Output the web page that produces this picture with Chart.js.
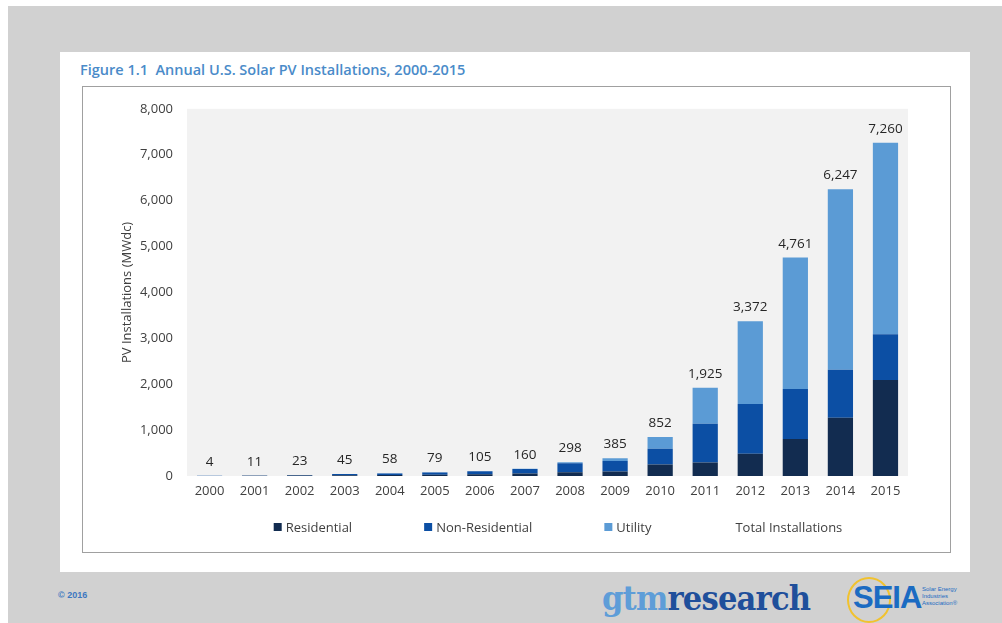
<!DOCTYPE html>
<html>
<head>
<meta charset="utf-8">
<script src="https://cdn.jsdelivr.net/npm/chart.js@4.4.1/dist/chart.umd.min.js"></script>
<style>
  html, body { margin: 0; padding: 0; background: #fff; }
  body { width: 1002px; height: 623px; position: relative; overflow: hidden; font-family: "Open Sans", sans-serif; }
  .bg { position: absolute; left: 8px; top: 6px; right: 0; bottom: 0; background: #d1d1d1; }
  .panel { position: absolute; left: 60px; top: 52px; width: 910px; height: 520px; background: #fff; }
  .title { position: absolute; left: 80px; top: 60px; margin: 0; font: 600 14.5px "Open Sans", sans-serif; color: #4a8bc9; white-space: nowrap; }
  .box { position: absolute; left: 82px; top: 86px; width: 867px; height: 465px; border: 1px solid #a0a0a0; background: #fff; }
  .box canvas { position: absolute; left: 0; top: 0; }
  .copy { position: absolute; left: 58px; top: 590px; font: bold 9px "Liberation Sans", Arial, sans-serif; color: #3d78c0; }
  .gtm { position: absolute; left: 602px; top: 578px; font: bold 34px "DejaVu Serif Condensed", "DejaVu Serif", serif; letter-spacing: -0.8px; white-space: nowrap; }
  .gtm .a { color: #5e9dd8; }
  .gtm .b { color: #1f4f9b; }
  .seia-ring { position: absolute; left: 847px; top: 577px; width: 40px; height: 42px; border: 2px solid #f1c22e; border-radius: 50%; }
  .seia { position: absolute; left: 853px; top: 580px; font: bold 31px "Liberation Sans Narrow", "Liberation Sans", sans-serif; color: #1b6bc2; letter-spacing: -1px; }
  .seia-sub { position: absolute; left: 922px; top: 586px; font: 6px/7px "Liberation Sans", sans-serif; color: #1b6bc2; }
</style>
</head>
<body>
<div class="bg"></div>
<div class="panel"></div>
<h1 class="title">Figure 1.1&nbsp; Annual U.S. Solar PV Installations, 2000-2015</h1>
<div class="box"><canvas id="pvChart" width="867" height="465"></canvas></div>
<div class="copy">© 2016</div>
<div class="gtm"><span class="a">gtm</span><span class="b">research</span></div>
<div class="seia-ring"></div>
<div class="seia">SEIA</div>
<div class="seia-sub">Solar Energy<br>Industries<br>Association®</div>

<script>
const years = ["2000", "2001", "2002", "2003", "2004", "2005", "2006", "2007",
               "2008", "2009", "2010", "2011", "2012", "2013", "2014", "2015"];

// MWdc per segment
const residential    = [1, 4, 9, 15, 24, 27, 38, 55, 80, 100, 250, 293, 485, 806, 1269, 2090];
const nonResidential = [3, 6, 13, 27, 32, 50, 67, 95, 200, 225, 342, 848, 1083, 1091, 1048, 997];
const utility        = [0, 1, 1, 3, 2, 2, 0, 10, 18, 60, 260, 784, 1804, 2864, 3930, 4173];
const totals         = [4, 11, 23, 45, 58, 79, 105, 160, 298, 385, 852, 1925, 3372, 4761, 6247, 7260];

const yTicks = [0, 1000, 2000, 3000, 4000, 5000, 6000, 7000, 8000];

const FONT = "Open Sans";
const TXT = "#404040";

// light grey plot background
const plotBg = {
  id: "plotBg",
  beforeDatasetsDraw(chart) {
    const { ctx, chartArea: a } = chart;
    ctx.save();
    ctx.fillStyle = "#f2f2f2";
    ctx.fillRect(a.left, a.top, a.right - a.left, a.bottom - a.top);
    ctx.restore();
  }
};

// total labels above each stack
const totalLabels = {
  id: "totalLabels",
  afterDatasetsDraw(chart) {
    const { ctx } = chart;
    const idx = chart.data.datasets.findIndex(d => d.isTotal);
    const meta = chart.getDatasetMeta(idx);
    ctx.save();
    ctx.font = `13.5px "${FONT}"`;
    ctx.fillStyle = "#262626";
    ctx.textAlign = "center";
    ctx.textBaseline = "bottom";
    meta.data.forEach((pt, i) => {
      const v = chart.data.datasets[idx].data[i];
      ctx.fillText(v.toLocaleString("en-US"), pt.x, pt.y - 7);
    });
    ctx.restore();
  }
};

// legend row under the axis, wide spacing like the original report
const legendRow = {
  id: "legendRow",
  afterDraw(chart) {
    const { ctx } = chart;
    const box = 8, gap = 4, spacing = 72;
    const cx = 475, cy = 440;
    ctx.save();
    ctx.font = `13px "${FONT}"`;
    ctx.textBaseline = "middle";
    const items = chart.data.datasets.map(d => ({
      text: d.label,
      color: d.isTotal ? null : d.backgroundColor,
      w: box + gap + ctx.measureText(d.label).width
    }));
    const total = items.reduce((s, it) => s + it.w, 0) + spacing * (items.length - 1);
    let x = cx - total / 2;
    items.forEach(it => {
      if (it.color) {
        ctx.fillStyle = it.color;
        ctx.fillRect(x, cy - box / 2, box, box);
      }
      ctx.fillStyle = TXT;
      ctx.fillText(it.text, x + box + gap, cy + 1);
      x += it.w + spacing;
    });
    ctx.restore();
  }
};

const barOpts = { barPercentage: 0.56, categoryPercentage: 1, borderWidth: 0, stack: "pv" };

new Chart(document.getElementById("pvChart"), {
  type: "bar",
  data: {
    labels: years,
    datasets: [
      { label: "Residential", data: residential, backgroundColor: "#122c50", ...barOpts },
      { label: "Non-Residential", data: nonResidential, backgroundColor: "#0c4fa4", ...barOpts },
      { label: "Utility", data: utility, backgroundColor: "#5b9bd5", ...barOpts },
      {
        label: "Total Installations", data: totals, type: "line", isTotal: true,
        stack: "total", showLine: false, pointRadius: 0, pointHoverRadius: 0,
        borderColor: "rgba(0,0,0,0)", backgroundColor: "rgba(0,0,0,0)"
      }
    ]
  },
  options: {
    responsive: false,
    animation: false,
    layout: { padding: { left: 32, right: 42, top: 15, bottom: 46 } },
    plugins: {
      legend: { display: false },
      tooltip: { enabled: false }
    },
    scales: {
      x: {
        stacked: true,
        grid: { display: false, drawTicks: false },
        border: { display: false },
        ticks: { color: TXT, font: { family: FONT, size: 13 }, padding: 7, maxRotation: 0 },
        afterFit(s) { s.height = 30; }
      },
      y: {
        stacked: true,
        min: 0,
        max: 8000,
        grid: { display: false, drawTicks: false },
        border: { display: false },
        afterBuildTicks(s) { s.ticks = yTicks.map(v => ({ value: v })); },
        ticks: {
          color: TXT,
          font: { family: FONT, size: 13 },
          padding: 14,
          callback: v => v.toLocaleString("en-US")
        },
        title: {
          display: true,
          text: "PV Installations (MWdc)",
          color: TXT,
          font: { family: FONT, size: 13 },
          padding: { top: 4, bottom: 4 }
        },
        afterFit(s) { s.width = 72; }
      }
    }
  },
  plugins: [plotBg, totalLabels, legendRow]
});
</script>
</body>
</html>
